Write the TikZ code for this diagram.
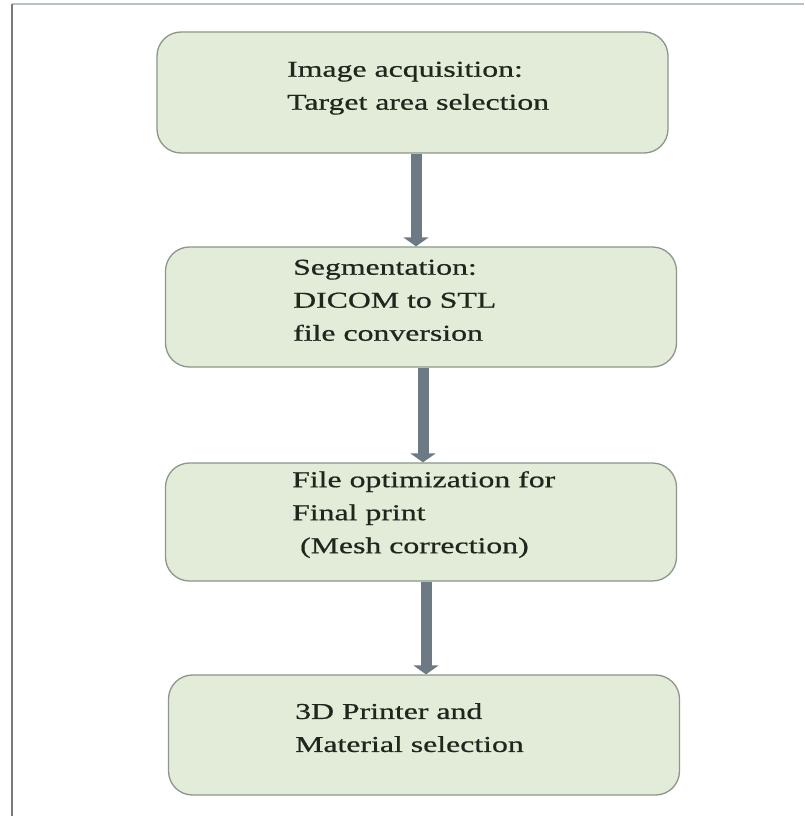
\documentclass[tikz,border=0pt]{standalone}
\usepackage{fontspec}
\setmainfont[FakeStretch=1.4,FakeBold=0.7]{Liberation Serif}
\usepackage{tikz}
\usetikzlibrary{arrows.meta}
\definecolor{boxfill}{HTML}{E3ECD8}
\definecolor{boxline}{HTML}{8A978A}
\definecolor{shaftgray}{HTML}{6E7986}
\definecolor{textdark}{HTML}{1E261E}

\begin{document}
\begin{tikzpicture}[x=1pt,y=-1pt,
    stagebox/.style={draw=boxline,line width=1.3pt,fill=boxfill,rounded corners=24pt,minimum width=511pt,inner sep=0pt},
    stagetext/.style={anchor=north west,inner sep=0pt,align=left,text=textdark,font=\fontsize{22.7}{33}\selectfont},
    flowarrow/.style={shaftgray,line width=11pt,-{Triangle[width=25pt,length=9pt]}}]
                \useasboundingbox (0,0) rectangle (804,816);
                \fill[white] (0,0) rectangle (804,816);
                % Frame
                \draw[line width=2pt,color={rgb,255:red,180;green,194;blue,204}](12,4.5)--(804,4.5);
                \draw[line width=2pt,color={rgb,255:red,122;green,122;blue,122}](12,4)--(12,816);
                % Stage boxes
                \node[stagebox,minimum height=121pt](acq) at (412.5,92.5){};
                \node[stagebox,minimum height=120pt](seg) at (421,307){};
                \node[stagebox,minimum height=118pt](opt) at (421,522){};
                \node[stagebox,minimum height=120pt](prt) at (424,735){};
                % Stage texts
                \node[stagetext](acqtext) at (287,61.5){Image acquisition:\\Target area selection};
                \node[stagetext](segtext) at (293,259.5){Segmentation:\\DICOM to STL\\file conversion};
                \node[stagetext](opttext) at (292,471){File optimization for\\Final print\\~(Mesh correction)};
                \node[stagetext](prttext) at (295,703){3D Printer and\\Material selection};
                % Flow arrows
                \draw[flowarrow]([xshift=3.5pt]acq.south)--([xshift=-5pt]seg.north);
                \draw[flowarrow]([xshift=2pt]seg.south)--([xshift=2pt]opt.north);
                \draw[flowarrow]([xshift=5pt]opt.south)--([xshift=2pt]prt.north);
\end{tikzpicture}
\end{document}
